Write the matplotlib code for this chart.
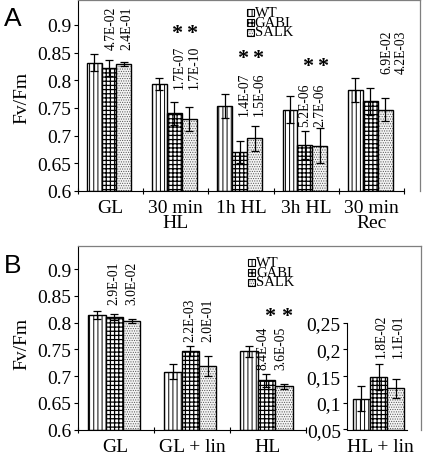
import numpy as np
import matplotlib
matplotlib.use("Agg")
import matplotlib.pyplot as plt
from matplotlib.patches import Rectangle

plt.rcParams['font.family'] = ['Liberation Serif', 'DejaVu Serif']

# ---- data ----
groups_a = ['GL', '30 min\nHL', '1h HL', '3h HL', '30 min\nRec']
wt_a = [0.832, 0.794, 0.753, 0.747, 0.783]
wt_a_err = [0.016, 0.011, 0.022, 0.025, 0.022]
gabi_a = [0.822, 0.740, 0.671, 0.683, 0.762]
gabi_a_err = [0.014, 0.021, 0.020, 0.025, 0.024]
salk_a = [0.829, 0.730, 0.695, 0.682, 0.747]
salk_a_err = [0.004, 0.021, 0.023, 0.032, 0.021]
p_gabi_a = ['4.7E-02', '1.7E-07', '1.4E-07', '5.2E-06', '6.9E-02']
p_salk_a = ['2.4E-01', '1.7E-10', '1.5E-06', '2.7E-06', '4.2E-03']
stars_a = [False, True, True, True, False]

groups_b = ['GL', 'GL + lin', 'HL']
wt_b = [0.814, 0.708, 0.746]
wt_b_err = [0.008, 0.014, 0.011]
gabi_b = [0.811, 0.747, 0.692]
gabi_b_err = [0.006, 0.010, 0.012]
salk_b = [0.803, 0.719, 0.681]
salk_b_err = [0.004, 0.019, 0.005]
p_gabi_b = ['2.9E-01', '2.2E-03', '8.4E-04']
p_salk_b = ['3.0E-02', '2.0E-01', '3.6E-05']
stars_b = [False, False, True]

group_c = ['HL + lin']
wt_c = [0.108]
wt_c_err = [0.024]
gabi_c = [0.148]
gabi_c_err = [0.024]
salk_c = [0.127]
salk_c_err = [0.018]
p_gabi_c = ['1.8E-02']
p_salk_c = ['1.1E-01']

series_names = ['WT', 'GABI', 'SALK']

# ---- styles ----
W, H = 426, 456
BW = 0.228
SHIFT = -0.02
styles = [
    dict(hatch='||||', hcolor='black', face='white', hlw=0.7),
    dict(hatch='++++', hcolor='black', face='white', hlw=0.9),
    dict(hatch='.......', hcolor='#555555', face='#f4f4f4', hlw=0.5),
]


def fig_box(x0, y0, x1, y1):
    # pixel box (top-left origin) -> figure fraction rect
    return [x0 / W, 1 - y1 / H, (x1 - x0) / W, (y1 - y0) / H]


def styled_rect(xy, w, h, st, **kw):
    r = Rectangle(xy, w, h, facecolor=st['face'], edgecolor=st['hcolor'],
                  hatch=st['hatch'], linewidth=0, **kw)
    if hasattr(r, 'set_hatch_linewidth'):
        r.set_hatch_linewidth(st['hlw'])
    return r


def draw_bars(ax, vals_list, errs_list, base):
    n = len(vals_list[0])
    x = np.arange(n)
    for k, (vals, errs, st) in enumerate(zip(vals_list, errs_list, styles)):
        xs = x + (k - 1) * BW + SHIFT
        h = np.array(vals) - base
        with plt.rc_context({'hatch.linewidth': st['hlw']}):
            bars = ax.bar(xs, h, BW, bottom=base, color=st['face'],
                          edgecolor=st['hcolor'], hatch=st['hatch'], linewidth=0)
            for b in bars:
                if hasattr(b, 'set_hatch_linewidth'):
                    b.set_hatch_linewidth(st['hlw'])
        ax.bar(xs, h, BW, bottom=base, fill=False, edgecolor='black', linewidth=1.0)
        ax.errorbar(xs, vals, yerr=errs, fmt='none', ecolor='black',
                    elinewidth=0.9, capsize=3.2, capthick=0.9)


def style_axes(ax, ylim, yticks, fmt, ncat, xmax, frame=True):
    ax.set_ylim(*ylim)
    ax.set_xlim(-0.5, xmax)
    ax.set_yticks(yticks)
    ax.set_yticklabels([fmt(v) for v in yticks], fontsize=14)
    ax.tick_params(axis='y', direction='out', length=3, width=0.8, pad=1.5)
    ax.set_xticks(np.arange(ncat + 1) - 0.5)
    ax.set_xticklabels([])
    ax.tick_params(axis='x', which='major', direction='inout', length=5, width=0.8)
    ax.spines['left'].set_linewidth(0.8)
    ax.spines['bottom'].set_linewidth(0.8)
    ax.spines['bottom'].set_bounds(-0.5, ncat - 0.5)
    if frame:
        for s in ['top', 'right']:
            ax.spines[s].set_color('#7f7f7f')
            ax.spines[s].set_linewidth(0.9)
    ax.patch.set_alpha(0)


def cat_labels(ax, labels):
    ax.set_xticks(np.arange(len(labels)), minor=True)
    ax.set_xticklabels(labels, minor=True, fontsize=14, linespacing=0.85)
    ax.tick_params(axis='x', which='minor', length=0, pad=6)


def pvals(ax, pg, ps, bottoms, dx):
    for i, (a, b, y) in enumerate(zip(pg, ps, bottoms)):
        for k, t in ((0, a), (1, b)):
            ax.text(i + k * BW + SHIFT + dx[i], y, t, rotation=90, ha='center',
                    va='bottom', fontsize=9.8)


def stars(ax, flags, ys):
    for i, (f, y) in enumerate(zip(flags, ys)):
        if f:
            for k in (0, 1):
                ax.text(i + k * BW + SHIFT + 0.04, y, '*', ha='center', va='center',
                        fontsize=16, fontweight='bold')


def legend(fig, x0, y0):
    pitch = 10
    for i, st in enumerate(styles):
        y = y0 + i * pitch
        fig.add_artist(styled_rect((x0 / W, 1 - (y + 7) / H), 7 / W, 7 / H, st,
                                   transform=fig.transFigure))
        fig.add_artist(Rectangle((x0 / W, 1 - (y + 7) / H), 7 / W, 7 / H, fill=False,
                                 edgecolor='black', linewidth=0.8,
                                 transform=fig.transFigure))
    # one block of text so the tight rows do not collide
    fig.text((x0 + 8) / W, 1 - (y0 - 3) / H, '\n'.join(series_names),
             fontsize=10.5, va='top', ha='left', linespacing=0.67)


fig = plt.figure(figsize=(W / 100, H / 100), dpi=100)

# ---- panel A ----
ax_a = fig.add_axes(fig_box(77.7, 1, 420, 192))
draw_bars(ax_a, [wt_a, gabi_a, salk_a], [wt_a_err, gabi_a_err, salk_a_err], 0.6)
style_axes(ax_a, (0.6, 0.945), [0.6, 0.65, 0.7, 0.75, 0.8, 0.85, 0.9],
           lambda v: '%g' % v, len(groups_a), 4.742)
cat_labels(ax_a, groups_a)
pvals(ax_a, p_gabi_a, p_salk_a, [0.857, 0.786, 0.738, 0.717, 0.813],
      [0.04, 0.08, 0.07, 0.0, 0.25])
stars(ax_a, stars_a, [0.885, 0.885, 0.840, 0.826, 0.0])
ax_a.set_ylabel('Fv/Fm', fontsize=14, labelpad=4)
ax_a.yaxis.set_label_coords(-47.5 / 342.3, 0.49)
legend(fig, 246.5, 10)
fig.text(4 / W, 1 - 19 / H, 'A', fontsize=19, family='Liberation Sans', va='center')

# ---- panel B ----
ax_b = fig.add_axes(fig_box(77.7, 246.7, 421, 430.5))
draw_bars(ax_b, [wt_b, gabi_b, salk_b], [wt_b_err, gabi_b_err, salk_b_err], 0.6)
style_axes(ax_b, (0.6, 0.944), [0.6, 0.65, 0.7, 0.75, 0.8, 0.85, 0.9],
           lambda v: '%g' % v, len(groups_b), 4.01)
cat_labels(ax_b, groups_b)
pvals(ax_b, p_gabi_b, p_salk_b, [0.834, 0.766, 0.7125], [0.0, 0.0, -0.04])
stars(ax_b, stars_b, [0, 0, 0.8125])
ax_b.set_ylabel('Fv/Fm', fontsize=14)
ax_b.yaxis.set_label_coords(-47.5 / 343.3, 0.47)
legend(fig, 248, 260)
fig.text(4 / W, 1 - 266 / H, 'B', fontsize=19, family='Liberation Sans', va='center')

# ---- inset for HL + lin ----
ax_c = fig.add_axes(fig_box(347, 323.8, 421, 430.5))
draw_bars(ax_c, [wt_c, gabi_c, salk_c], [wt_c_err, gabi_c_err, salk_c_err], 0.05)
ax_c.set_ylim(0.05, 0.25)
ax_c.set_xlim(-0.44, 0.543)
ticks_c = [0.05, 0.1, 0.15, 0.2, 0.25]
ax_c.set_yticks(ticks_c)
ax_c.set_yticklabels([('%g' % v).replace('.', ',') for v in ticks_c], fontsize=14)
ax_c.tick_params(axis='y', direction='out', length=3, width=0.8, pad=1.5)
ax_c.set_xticks([])
ax_c.spines['top'].set_visible(False)
ax_c.spines['right'].set_visible(False)
ax_c.spines['left'].set_linewidth(0.8)
ax_c.spines['bottom'].set_linewidth(0.8)
ax_c.spines['bottom'].set_bounds(-0.44, 0.36)
ax_c.patch.set_alpha(0)
cat_labels(ax_c, group_c)
pvals(ax_c, p_gabi_c, p_salk_c, [0.185], [0.03])

fig.savefig('out.png', dpi=100)
